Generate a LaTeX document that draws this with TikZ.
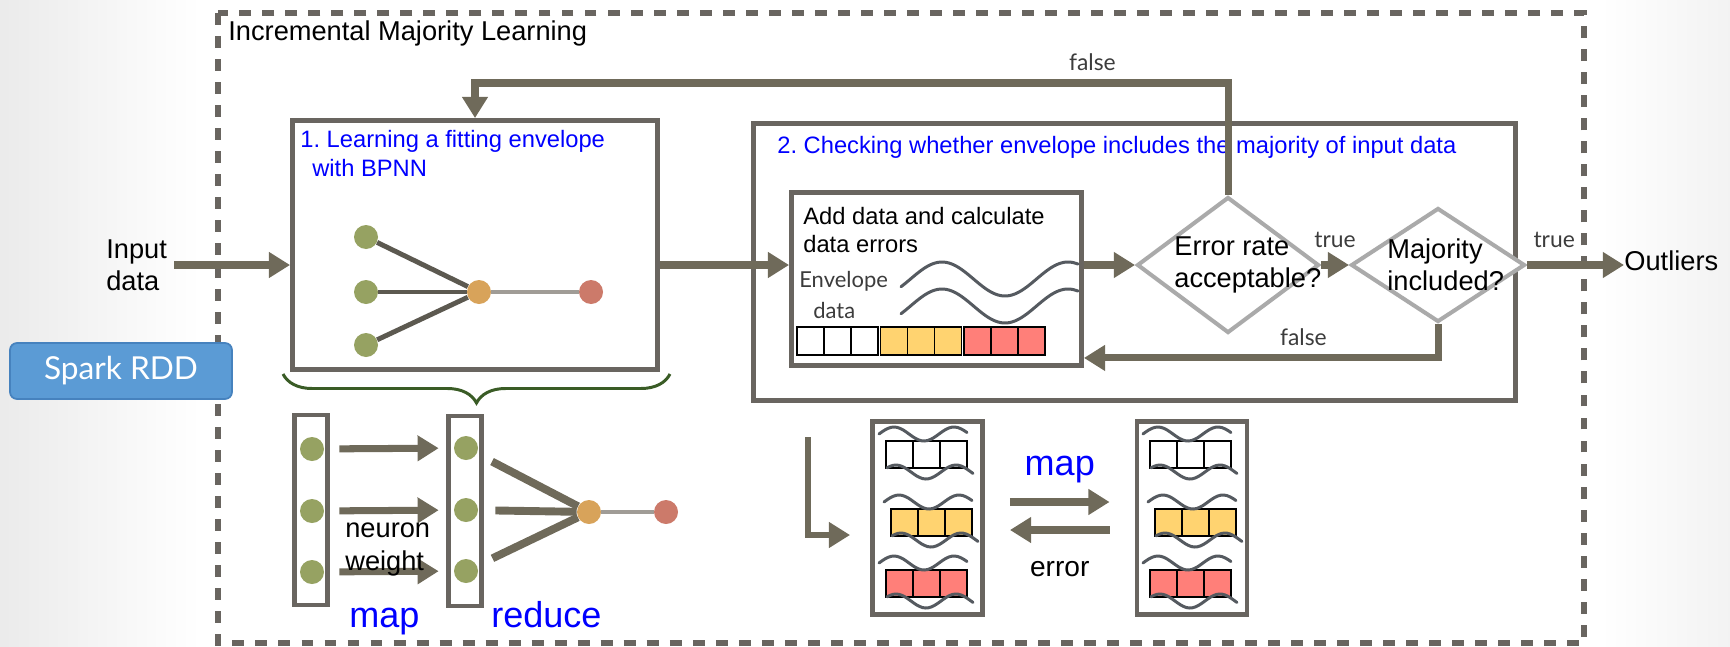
\documentclass[tikz,border=0pt]{standalone}
\usepackage{fontspec}
\setmainfont{Liberation Sans}
\newfontfamily\gillfont{Lato}
\frenchspacing
\usetikzlibrary{arrows.meta,shapes.geometric,decorations.pathreplacing,positioning}
\definecolor{boxgray}{RGB}{105,101,96}
\definecolor{flowcol}{RGB}{111,106,90}
\definecolor{diagray}{RGB}{170,170,170}
\definecolor{nngreen}{RGB}{150,162,98}
\definecolor{nnorange}{RGB}{216,163,90}
\definecolor{nnred}{RGB}{204,122,106}
\definecolor{nndark}{RGB}{92,89,80}
\definecolor{nnlight}{RGB}{160,156,150}
\definecolor{wavecol}{RGB}{85,90,96}
\definecolor{cellyel}{RGB}{255,211,112}
\definecolor{cellred}{RGB}{255,127,121}
\definecolor{sparkblue}{RGB}{91,155,213}
\definecolor{sparkedge}{RGB}{70,130,190}
\definecolor{bracegreen}{RGB}{58,92,38}
\definecolor{lblgray}{RGB}{60,60,60}
\begin{document}
\begin{tikzpicture}[x=0.02cm, y=-0.02cm,
		box/.style={draw=boxgray, line width=2.8pt, fill=white, inner sep=0pt},
		flow/.style={draw=flowcol, line width=4pt, -{Triangle[length=12pt,width=14pt]}},
		txt/.style={anchor=base west, inner sep=0pt, font=\fontsize{15.5}{18}\selectfont},
		bluetxt/.style={txt, text=blue, font=\fontsize{13.5}{16}\selectfont},
		bigtxt/.style={inner sep=0pt, text=blue, font=\fontsize{20.5}{24}\selectfont},
		lbl/.style={inner sep=0pt, text=lblgray, font=\gillfont\fontsize{13}{15}\selectfont},
		neuron/.style={circle, inner sep=0pt, minimum size=0.48cm},
		nnline/.style={draw=nndark, line width=2.8pt},
		decision/.style={diamond, draw=diagray, line width=2.3pt, fill=white, inner sep=0pt},
		cell/.style={draw=black, line width=1.1pt},
		wave/.style={draw=wavecol, line width=1.7pt, line cap=round},
		spark/.style={rounded corners=4pt, fill=sparkblue, draw=sparkedge, line width=1pt, text=white,
			font=\gillfont\fontsize{18}{20}\selectfont, minimum width=4.44cm, minimum height=1.12cm}]
		\useasboundingbox (0,0) rectangle (1730,646);
		\fill[left color=black!8, right color=white] (0,0) rectangle (200,646);
		\fill[left color=white, right color=black!5] (1600,0) rectangle (1730,646);
		% outer frame
		\draw[draw=boxgray, line width=3.4pt, dash pattern=on 6.8pt off 6.3pt] (218,13) rectangle (1584,643);
		\node[txt] (title) at (228,40) {Incremental Majority Learning};
		\node[spark] (spark) at (121,371) {Spark RDD};
		% step 1
		\node[box, minimum width=7.3cm, minimum height=4.98cm] (learn) at (475,245) {};
		\node[bluetxt] (learnA) at (300,147) {1. Learning a fitting envelope};
		\node[bluetxt] (learnB) at (312,176) {with BPNN};
		\node[neuron, fill=nngreen] (in1) at (366,237) {};
		\node[neuron, fill=nngreen] (in2) at (366,292) {};
		\node[neuron, fill=nngreen] (in3) at (366,345) {};
		\node[neuron, fill=nnorange] (hid) at (479,292) {};
		\node[neuron, fill=nnred] (out) at (591,292) {};
		\foreach \i in {1,2,3} \draw[nnline] (in\i) -- (hid);
		\draw[nnline, draw=nnlight] (hid) -- (out);
		\node[txt, anchor=west, align=left] (input) at (106,265) {Input\\data};
		\draw[flow, shorten <=4pt] (input.east) -- (input.east -| learn.west);
		\draw[draw=bracegreen, line width=1.7pt, decorate, decoration={brace, amplitude=0.58cm}] (670,374) -- (283,374);
		% map and reduce
		\node[box, minimum width=0.66cm, minimum height=3.8cm] (mapcol) at (311,510) {};
		\node[box, minimum width=0.66cm, minimum height=3.8cm] (redcol) at (465,511) {};
		\node[neuron, fill=nngreen] (m1) at (312,449) {};
		\node[neuron, fill=nngreen] (m2) at (312,511) {};
		\node[neuron, fill=nngreen] (m3) at (312,572) {};
		\node[neuron, fill=nngreen] (r1) at (466,448) {};
		\node[neuron, fill=nngreen] (r2) at (466,510) {};
		\node[neuron, fill=nngreen] (r3) at (466,571) {};
		\node[neuron, fill=nnorange] (hid2) at (589,512) {};
		\node[neuron, fill=nnred] (out2) at (666,512) {};
		\foreach \i in {1,2,3} \draw[flow, shorten <=0.3cm, shorten >=0.3cm] (m\i) -- (r\i);
		\foreach \i in {1,2,3} \draw[nnline, draw=flowcol, line width=4.5pt, shorten <=0.34cm] (r\i) -- (hid2);
		\draw[nnline, draw=nnlight] (hid2) -- (out2);
		\node[txt] (neuronlbl) at (345,537) {neuron};
		\node[txt] (weightlbl) at (345,570) {weight};
		\node[bigtxt, anchor=base west] (maplbl) at (349,627) {map};
		\node[bigtxt, anchor=base west] (reducelbl) at (491,627) {reduce};
		% step 2
		\node[box, minimum width=15.24cm, minimum height=5.54cm] (check) at (1134.5,262) {};
		\node[bluetxt] (checklbl) at (777,153) {2. Checking whether envelope includes the majority of input data};
		\node[box, minimum width=5.8cm, minimum height=3.46cm] (adddata) at (936.5,279) {};
		\node[txt, font=\fontsize{13.5}{16}\selectfont] (addA) at (803,224) {Add data and calculate};
		\node[txt, font=\fontsize{13.5}{16}\selectfont] (addB) at (803,252) {data errors};
		\node[lbl, anchor=base west, font=\gillfont\fontsize{12.5}{15}\selectfont] (envA) at (799,287) {Envelope};
		\node[lbl, anchor=base west, font=\gillfont\fontsize{12.5}{15}\selectfont] (envB) at (813,318) {data};
		\foreach \dy in {0,27} \draw[wave] plot[domain=901:1078, samples=40, smooth] (\x, {279+\dy-17*cos((\x-942)*2.857)});
		\foreach \col [count=\j from 0] in {white,cellyel,cellred}
			\foreach \i in {0,1,2} \draw[cell, fill=\col] (797+83.5*\j+27*\i,327) rectangle ++(27,28);
		\node[decision, minimum width=3.64cm, minimum height=2.72cm] (errdia) at (1228,265) {};
		\node[decision, minimum width=3.48cm, minimum height=2.28cm] (majdia) at (1438,265) {};
		\node[txt] (errA) at (1174,255) {Error rate};
		\node[txt] (errB) at (1174,287) {acceptable?};
		\node[txt] (majA) at (1387,258) {Majority};
		\node[txt] (majB) at (1387,290) {included?};
		\node[txt] (outl) at (1624,270) {Outliers};
		\draw[flow] (learn.east |- errdia) -- (adddata.west |- errdia);
		\draw[flow] (adddata.east |- errdia) -- (errdia.west);
		\draw[flow] (errdia.east) -- node[lbl, above=8pt] {true} (majdia.west);
		\draw[flow] (majdia.east) -- node[lbl, pos=0.28, above=8pt] {true} (majdia.east -| outl.west);
		\coordinate (falsetop) at (1228,83);
		\draw[flow] (errdia.north) -- (falsetop) -| node[lbl, pos=0.09, above=5pt] {false} (learn.north);
		\draw[flow] (majdia.south) |- node[lbl, pos=0.69, above=5pt] {false} ([yshift=0.2cm]adddata.south east);
		% workers
		\node[box, minimum width=2.2cm, minimum height=3.86cm] (wk1) at (927.5,518) {};
		\node[box, minimum width=2.2cm, minimum height=3.86cm] (wk2) at (1192,518) {};
		\foreach \sx in {0,5.28} {
			\begin{scope}[xshift=\sx cm]
				\foreach \ry/\rx/\col in {441/886/white,509/891/cellyel,570/886/cellred} {
					\foreach \i in {0,1,2} \draw[cell, fill=\col] (\rx+27*\i,\ry) rectangle ++(27,27);
					\draw[wave] plot[domain=\rx-7:\rx+81, samples=30, smooth] (\x, {\ry-7-7*cos((\x-\rx-8)*6)});
					\draw[wave] plot[domain=\rx+1:\rx+87, samples=30, smooth] (\x, {\ry+31+7*cos((\x-\rx-40)*6)});
				}
			\end{scope}
		}
		\coordinate (lstart) at (808,437);
		\draw[flow, line width=3.4pt, shorten >=0.4cm] (lstart) |- ([yshift=-0.34cm]wk1.west);
		\draw[flow, shorten <=0.5cm, shorten >=0.5cm] ([yshift=0.32cm]wk1.east) -- node[bigtxt, above=9pt] {map} ([yshift=0.32cm]wk2.west);
		\draw[flow, shorten <=0.5cm, shorten >=0.5cm] ([yshift=-0.24cm]wk2.west) -- node[txt, anchor=north, font=\fontsize{16}{18}\selectfont, below=16pt] {error} ([yshift=-0.24cm]wk1.east);
	\end{tikzpicture}
\end{document}
